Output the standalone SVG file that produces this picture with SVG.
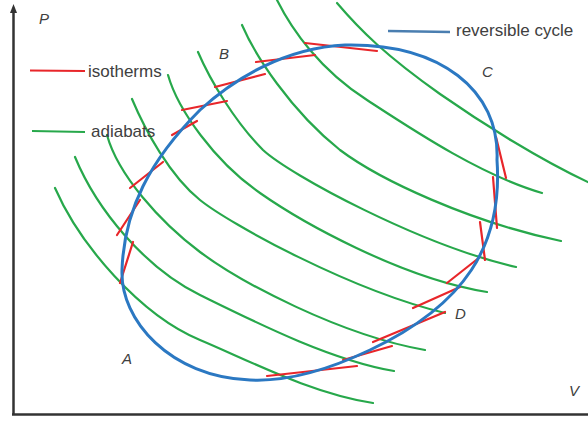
<svg xmlns="http://www.w3.org/2000/svg" width="588" height="423" viewBox="0 0 588 423">
<style>
.ad{fill:none;stroke:#27a84b;stroke-width:2.2;stroke-linecap:round}
.iso{fill:none;stroke:#e8262a;stroke-width:2.2;stroke-linecap:round}
.cyc{fill:none;stroke:#2b78c2;stroke-width:3}
.ax{fill:none;stroke:#333;stroke-width:2.5}
.lbl{font-family:"Liberation Sans",Arial,sans-serif;font-style:italic;font-size:15px;fill:#404040}
.leg{font-family:"Liberation Sans",Arial,sans-serif;font-size:17px;fill:#404040}
</style>
<rect width="588" height="423" fill="#fff"/>
<g id="axes">
<line class="ax" x1="13.5" y1="12" x2="13.5" y2="415"/>
<polygon points="13.5,4 10,13 17,13" fill="#333"/>
<line class="ax" x1="12" y1="414.5" x2="588" y2="414.5"/>
</g>
<g id="adiabats">
<path class="ad" d="M55,188 C80,245 140,315 200,340 C250,361 310,393 373,403"/>
<path class="ad" d="M75,157 C97,210 145,268 200,295 C255,322 330,360 394,371"/>
<path class="ad" d="M107,135 C118,175 160,222 200,252 C240,282 340,335 425,350"/>
<path class="ad" d="M132,99 C145,130 170,176 200,200 C230,224 350,290 445,313"/>
<path class="ad" d="M168,75 C178,110 215,162 260,193 C300,221 400,278 487,292"/>
<path class="ad" d="M198,52 C210,80 235,122 263,150 C290,175 420,245 516,267"/>
<path class="ad" d="M242,25 C255,55 290,110 340,150 C380,180 470,222 561,241"/>
<path class="ad" d="M277,0 C292,30 320,70 367,100 C410,128 480,175 542,193"/>
<path class="ad" d="M337,3 C360,30 385,55 440,94 C480,122 540,160 592,184"/>
</g>
<g id="isotherms">
<line class="iso" x1="120" y1="283" x2="133" y2="242"/>
<line class="iso" x1="117" y1="235" x2="140" y2="200"/>
<line class="iso" x1="130" y1="188" x2="163" y2="162"/>
<line class="iso" x1="172" y1="135" x2="197" y2="121"/>
<line class="iso" x1="182" y1="110" x2="227" y2="101"/>
<line class="iso" x1="215" y1="87" x2="265" y2="74"/>
<line class="iso" x1="256" y1="62" x2="315" y2="55"/>
<line class="iso" x1="305" y1="43" x2="377" y2="51"/>
<line class="iso" x1="496" y1="137" x2="506" y2="178"/>
<line class="iso" x1="493" y1="177" x2="497" y2="228"/>
<line class="iso" x1="480" y1="222" x2="485" y2="260"/>
<line class="iso" x1="480" y1="257" x2="447" y2="283"/>
<line class="iso" x1="460" y1="287" x2="413" y2="308"/>
<line class="iso" x1="445" y1="312" x2="373" y2="342"/>
<line class="iso" x1="392" y1="346" x2="343" y2="360"/>
<line class="iso" x1="357" y1="366" x2="267" y2="376"/>
</g>
<g id="cycle">
<path class="cyc" d="M345,45 C440,43 500,90 497,160 C503,245 465,305 370,350 C330,369 290,382 250,380 C170,377 120,320 122,270 C124,210 150,160 200,110 C235,78 285,48 345,45 Z"/>
</g>
<g id="legend">
<line x1="30" y1="70.5" x2="85" y2="71" stroke="#e8262a" stroke-width="2.2"/>
<text class="leg" x="88" y="77">isotherms</text>
<line x1="32" y1="131" x2="85" y2="132" stroke="#27a84b" stroke-width="2.2"/>
<text class="leg" x="91" y="137">adiabats</text>
<line x1="388" y1="31" x2="450" y2="32" stroke="#4a7eb0" stroke-width="2.5"/>
<text class="leg" x="456" y="36">reversible cycle</text>
</g>
<g id="labels">
<text class="lbl" x="39" y="24">P</text>
<text class="lbl" x="122" y="364">A</text>
<text class="lbl" x="219" y="59">B</text>
<text class="lbl" x="482" y="77">C</text>
<text class="lbl" x="455" y="319">D</text>
<text class="lbl" x="569" y="396">V</text>
</g>
</svg>
